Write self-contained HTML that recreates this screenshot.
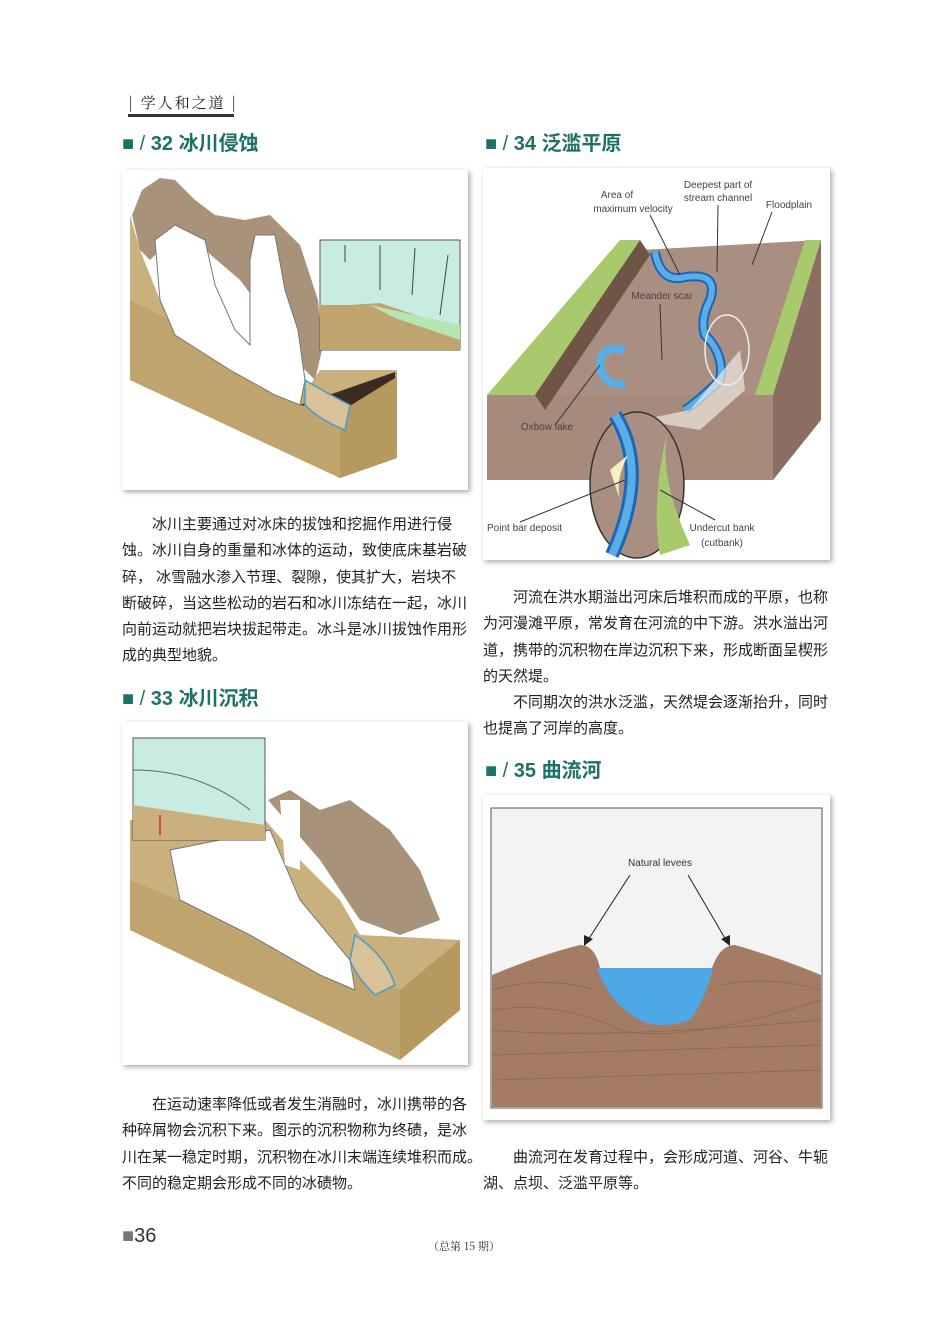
<!DOCTYPE html>
<html><head><meta charset="utf-8"><style>
body{margin:0;background:#fff;}
#p{position:relative;width:950px;height:1343px;overflow:hidden;background:#fff;font-family:"Liberation Sans","Noto Sans CJK SC",sans-serif;}
.a{position:absolute;white-space:nowrap;}
.h{font-size:20px;color:#1e7166;font-weight:bold;}
.t{font-size:15px;color:#222;line-height:26.3px;}
.fr{position:absolute;background:#fff;box-shadow:2px 2px 5px rgba(0,0,0,0.35);}
</style></head><body><div id="p">
<div class="a" style="left:128px;top:92px;font-size:15px;font-family:'Noto Serif CJK SC',serif;color:#222;letter-spacing:2px;">| 学人和之道 |</div>
<div class="a" style="left:128px;top:114px;width:106px;height:3px;background:#333;"></div>

<div class="a h" style="left:122px;top:127px;">■ <span style="font-weight:normal">/</span> 32 冰川侵蚀</div>
<div class="a h" style="left:485px;top:127px;">■ <span style="font-weight:normal">/</span> 34 泛滥平原</div>
<div class="a h" style="left:122px;top:682px;">■ <span style="font-weight:normal">/</span> 33 冰川沉积</div>
<div class="a h" style="left:485px;top:754px;">■ <span style="font-weight:normal">/</span> 35 曲流河</div>

<!-- image 32 -->
<div class="fr" style="left:122px;top:170px;width:346px;height:320px;">
<svg width="346" height="320" viewBox="122 170 346 320">
<polygon points="130,215 140,250 160,300 185,320 230,345 300,400 320,370 397,370 397,458 340,478 130,380" fill="#c9b07c"/>
<polygon points="130,300 340,405 340,478 130,380" fill="#bfa46e"/>
<polygon points="340,405 397,372 397,458 340,478" fill="#b5995f"/>
<polygon points="300,405 395,372 395,378 340,412" fill="#3b2c22"/>
<path d="M132,215 L142,190 L160,178 L175,180 L195,200 L215,215 L245,220 L270,215 L300,245 L318,300 L322,350 L315,380 L295,360 L270,320 L240,280 L205,250 L170,240 L150,260 L140,250 Z" fill="#a8927a"/>
<path d="M155,240 L175,225 L205,240 L215,285 L235,330 L250,345 L250,260 L255,235 L275,235 L285,290 L298,330 L305,380 L300,405 L275,395 L230,370 L175,335 L160,300 Z" fill="#fff" stroke="#777" stroke-width="1"/>
<path d="M305,380 Q330,395 350,405 L345,430 Q320,420 305,405 Z" fill="#d9c29a" stroke="#4a9cc8" stroke-width="1.5"/>
<rect x="320" y="240" width="140" height="110" fill="#c9ece2" stroke="#555"/>
<polygon points="320,305 350,305 380,303 460,330 460,350 320,350" fill="#bfa46e"/>
<polygon points="370,305 460,325 460,340 395,318" fill="#b5e5b0"/>
<g stroke="#444" stroke-width="1"><line x1="345" y1="245" x2="345" y2="262"/><line x1="380" y1="245" x2="380" y2="290"/><line x1="415" y1="248" x2="412" y2="295"/><line x1="448" y1="255" x2="440" y2="315"/></g>
</svg></div>
<div class="a t" style="left:122px;top:512px;">
<div>　　冰川主要通过对冰床的拔蚀和挖掘作用进行侵</div>
<div>蚀。冰川自身的重量和冰体的运动，致使底床基岩破</div>
<div>碎， 冰雪融水渗入节理、裂隙，使其扩大，岩块不</div>
<div>断破碎，当这些松动的岩石和冰川冻结在一起，冰川</div>
<div>向前运动就把岩块拔起带走。冰斗是冰川拔蚀作用形</div>
<div>成的典型地貌。</div></div>

<!-- image 33 -->
<div class="fr" style="left:122px;top:722px;width:346px;height:343px;">
<svg width="346" height="343" viewBox="122 722 346 343">
<polygon points="130,820 265,820 300,860 340,900 360,935 460,940 460,1010 400,1060 130,930" fill="#c9b07c"/>
<polygon points="130,880 400,990 400,1060 130,930" fill="#bfa46e"/>
<polygon points="400,990 460,940 460,1010 400,1060" fill="#b5995f"/>
<polygon points="268,800 290,790 320,810 350,800 390,830 420,870 440,920 400,935 360,920 320,860" fill="#a8927a"/>
<path d="M170,850 L270,830 L300,900 L350,960 L355,990 L320,975 L250,935 L180,900 Z" fill="#fff" stroke="#777"/>
<path d="M280,800 L300,800 L300,870 L285,865 Z" fill="#fff"/>
<path d="M355,935 Q385,955 395,985 L375,995 Q355,975 350,960 Z" fill="#d9c29a" stroke="#4a9cc8" stroke-width="1.5"/>
<rect x="133" y="738" width="132" height="102" fill="#c9ece2" stroke="#555"/>
<polygon points="133,805 200,815 265,825 265,840 133,840" fill="#c9b07c"/>
<path d="M133,770 Q200,770 250,810" stroke="#666" fill="none"/>
<line x1="160" y1="835" x2="160" y2="815" stroke="#d22" stroke-width="1.5"/>
</svg></div>
<div class="a t" style="left:122px;top:1092px;">
<div>　　在运动速率降低或者发生消融时，冰川携带的各</div>
<div>种碎屑物会沉积下来。图示的沉积物称为终碛，是冰</div>
<div>川在某一稳定时期，沉积物在冰川末端连续堆积而成。</div>
<div>不同的稳定期会形成不同的冰碛物。</div></div>

<!-- image 34 -->
<div class="fr" style="left:483px;top:168px;width:347px;height:392px;">
<svg width="347" height="392" viewBox="483 168 347 392" font-family="Liberation Sans Narrow,Liberation Sans,sans-serif" font-size="10" fill="#444">
<polygon points="487,395 773,395 821,240 640,250" fill="#a98e82"/>
<polygon points="487,395 773,395 773,480 487,480" fill="#a68a7c"/>
<polygon points="773,395 821,240 821,420 773,480" fill="#8a6e62"/>
<polygon points="487,395 535,395 640,240 620,240" fill="#a8c96c"/>
<polygon points="535,395 545,410 650,255 640,240" fill="#6e5546"/>
<polygon points="755,395 773,395 821,240 805,240" fill="#a8c96c"/>
<path d="M655,252 Q660,280 680,278 Q720,270 710,300 Q700,320 705,335 Q725,355 720,380 Q700,400 685,410" stroke="#1a66b8" stroke-width="10" fill="none"/>
<path d="M655,252 Q660,280 680,278 Q720,270 710,300 Q700,320 705,335 Q725,355 720,380 Q700,400 685,410" stroke="#5aaee8" stroke-width="6" fill="none"/>
<path d="M625,350 Q600,345 600,365 Q602,385 625,385" stroke="#5aaee8" stroke-width="8" fill="none"/>
<polygon points="640,420 690,410 740,350 745,390 700,430" fill="#efe9e0" opacity="0.7"/>
<ellipse cx="727" cy="350" rx="22" ry="35" fill="none" stroke="#eee" stroke-width="1.5"/>
<ellipse cx="637" cy="485" rx="47" ry="73" fill="#a98e82" stroke="#333" stroke-width="1.5"/>
<path d="M670,420 Q655,470 690,545 L660,555 Q650,500 670,420" fill="#a8c96c"/>
<path d="M615,415 Q650,470 612,555" stroke="#1a66b8" stroke-width="14" fill="none"/>
<path d="M615,415 Q650,470 612,555" stroke="#5aaee8" stroke-width="8" fill="none"/>
<path d="M628,455 Q615,480 620,500 L610,470 Z" fill="#f5f0c0"/>
<text x="617" y="198" text-anchor="middle">Area of</text><text x="633" y="212" text-anchor="middle">maximum velocity</text>
<text x="718" y="188" text-anchor="middle">Deepest part of</text><text x="718" y="201" text-anchor="middle">stream channel</text>
<text x="789" y="208" text-anchor="middle">Floodplain</text>
<text x="662" y="299" text-anchor="middle">Meander scar</text>
<text x="547" y="430" text-anchor="middle">Oxbow lake</text>
<text x="487" y="531">Point bar deposit</text>
<text x="722" y="531" text-anchor="middle">Undercut bank</text><text x="722" y="546" text-anchor="middle">(cutbank)</text>
<g stroke="#333" fill="none"><line x1="650" y1="215" x2="680" y2="275"/><line x1="718" y1="205" x2="717" y2="272"/><line x1="772" y1="212" x2="752" y2="265"/><line x1="660" y1="304" x2="662" y2="360"/><line x1="555" y1="425" x2="600" y2="365"/><line x1="520" y1="522" x2="625" y2="480"/><line x1="715" y1="520" x2="660" y2="490"/></g>
</svg></div>
<div class="a t" style="left:483px;top:585px;">
<div>　　河流在洪水期溢出河床后堆积而成的平原，也称</div>
<div>为河漫滩平原，常发育在河流的中下游。洪水溢出河</div>
<div>道，携带的沉积物在岸边沉积下来，形成断面呈楔形</div>
<div>的天然堤。</div>
<div>　　不同期次的洪水泛滥，天然堤会逐渐抬升，同时</div>
<div>也提高了河岸的高度。</div></div>

<!-- image 35 -->
<div class="fr" style="left:483px;top:795px;width:347px;height:325px;">
<svg width="347" height="325" viewBox="483 795 347 325" font-family="Liberation Sans Narrow,Liberation Sans,sans-serif" font-size="10" fill="#333">
<rect x="491" y="808" width="331" height="300" fill="#f3f3f3" stroke="#555"/>
<path d="M492,975 Q540,955 580,945 Q595,945 600,968 L712,968 Q720,945 735,945 Q780,958 821,975 L821,1107 L492,1107 Z" fill="#a47c64"/>
<path d="M597,968 L713,968 Q705,1000 690,1020 Q660,1030 640,1020 Q610,1005 597,968 Z" fill="#4fa8e6"/>
<g stroke="#8c6652" fill="none" stroke-width="0.8"><path d="M492,990 Q545,975 595,990"/><path d="M492,1010 Q560,1000 620,1030 Q680,1045 821,1000"/><path d="M492,1030 Q600,1040 821,1020"/><path d="M492,1055 L821,1045"/><path d="M492,1080 L821,1070"/><path d="M720,985 Q770,975 821,990"/></g>
<text x="660" y="866" text-anchor="middle">Natural levees</text>
<g stroke="#222" stroke-width="1"><line x1="630" y1="875" x2="588" y2="940"/><line x1="688" y1="875" x2="726" y2="940"/></g>
<polygon points="584,946 584,935 593,939" fill="#222"/><polygon points="730,946 721,939 730,935" fill="#222"/>
</svg></div>
<div class="a t" style="left:483px;top:1145px;">
<div>　　曲流河在发育过程中，会形成河道、河谷、牛轭</div>
<div>湖、点坝、泛滥平原等。</div></div>

<div class="a" style="left:122px;top:1225px;font-size:20px;color:#333;"><span style="color:#777">■</span>36</div>
<div class="a" style="left:428px;top:1238px;font-size:11px;font-family:'Noto Serif CJK SC',serif;color:#333;">（总第 15 期）</div>
</div></body></html>
